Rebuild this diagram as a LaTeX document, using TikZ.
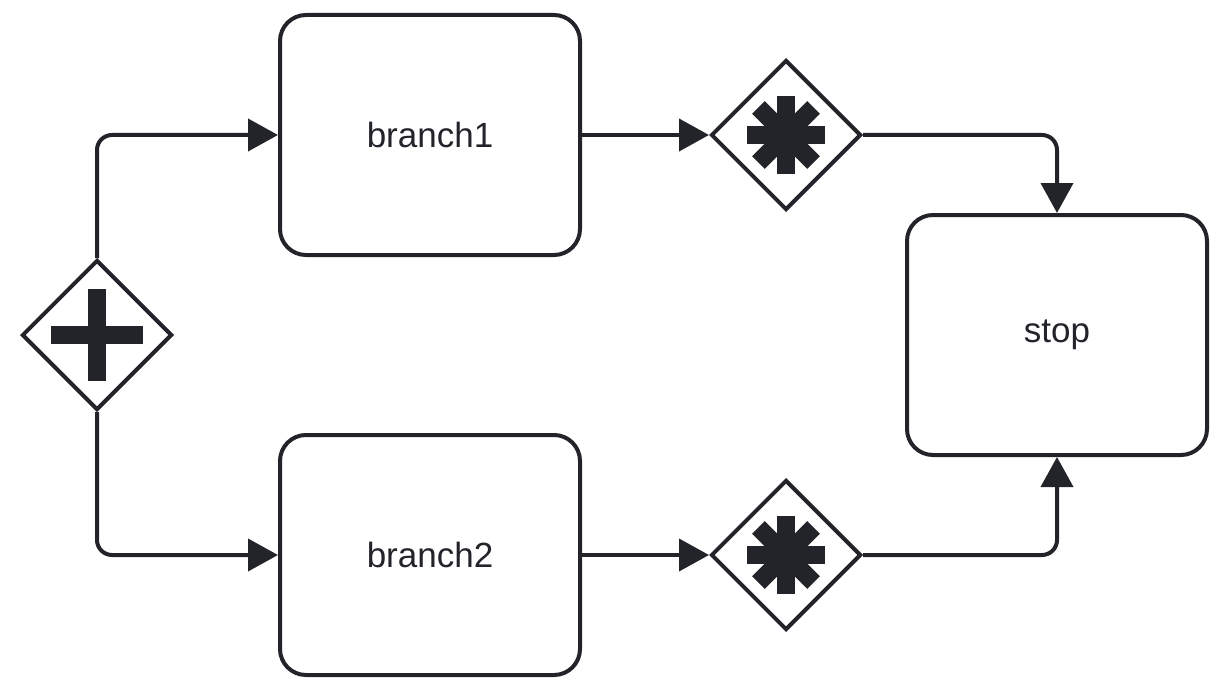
\documentclass[tikz,border=0pt]{standalone}
\usepackage{fontspec}
\setmainfont{Liberation Sans}
\usetikzlibrary{arrows.meta,shapes.geometric}
\definecolor{ink}{RGB}{34,36,41}
\tikzset{
    taskbox/.style={draw=ink, line width=4pt, rounded corners=26pt, minimum width=300pt,
        minimum height=240pt, text=ink, font=\fontsize{35}{42}\selectfont},
    gateway/.style={draw=ink, line width=4pt, diamond, minimum size=150pt, inner sep=0pt},
    flow/.style={draw=ink, line width=4pt, rounded corners=15pt,
        -{Triangle[length=30pt,width=32pt]}}
}
\begin{document}
\begin{tikzpicture}[x=1pt,y=-1pt]
    \useasboundingbox (0,0) rectangle (1221,690);
    % tasks
    \node[taskbox] (branch1) at (430,135) {branch1};
    \node[taskbox] (branch2) at (430,555) {branch2};
    \node[taskbox] (stop) at (1057,335) {stop};
    % gateways
    \node[gateway] (gwsplit) at (97,335) {};
    \node[gateway] (gwjoin1) at (786,135) {};
    \node[gateway] (gwjoin2) at (786,555) {};
    \foreach \a in {0,90}
    \fill[ink, shift={(gwsplit.center)}, rotate=\a] (-46,-9) rectangle (46,9);
    \foreach \g in {gwjoin1,gwjoin2}
    \foreach \a in {0,45,90,135}
    \fill[ink, shift={(\g.center)}, rotate=\a] (-39,-9) rectangle (39,9);
    % flows
    \draw[flow] (gwsplit.north) |- (branch1.west);
    \draw[flow] (gwsplit.south) |- (branch2.west);
    \draw[flow] (branch1.east) -- (gwjoin1.west);
    \draw[flow] (branch2.east) -- (gwjoin2.west);
    \draw[flow] (gwjoin1.east) -| (stop.north);
    \draw[flow] (gwjoin2.east) -| (stop.south);
\end{tikzpicture}
\end{document}
